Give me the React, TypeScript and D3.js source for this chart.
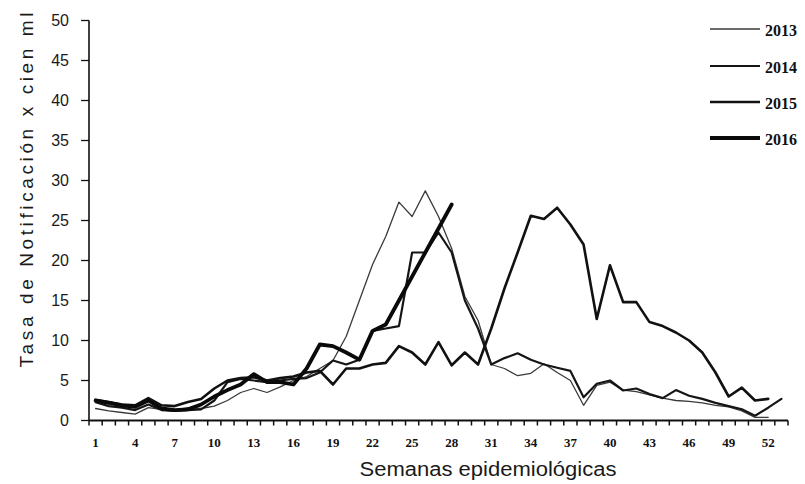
import React from 'react';
import * as d3 from 'd3';

const weeks: number[] = [
  1, 2, 3, 4, 5, 6, 7, 8, 9, 10, 11, 12, 13, 14, 15, 16, 17, 18, 19, 20, 21, 22, 23, 24, 25, 26,
  27, 28, 29, 30, 31, 32, 33, 34, 35, 36, 37, 38, 39, 40, 41, 42, 43, 44, 45, 46, 47, 48, 49, 50,
  51, 52, 53,
];
const xTickLabels: number[] = [1, 4, 7, 10, 13, 16, 19, 22, 25, 28, 31, 34, 37, 40, 43, 46, 49, 52];
const yTickValues: number[] = [0, 5, 10, 15, 20, 25, 30, 35, 40, 45, 50];
const seriesNames: string[] = ['2013', '2014', '2015', '2016'];

const s2013: number[] = [
  1.5, 1.2, 1.0, 0.8, 1.6, 1.4, 1.3, 1.6, 1.5, 1.8,
  2.5, 3.5, 4.0, 3.5, 4.2, 5.0, 5.5, 6.5, 7.5, 10.5,
  15, 19.5, 23, 27.3, 25.5, 28.7, 25.5, 21.5, 15.5, 12.5,
  7, 6.5, 5.6, 5.9, 7.1, 6.0, 5.0, 1.9, 4.4, 4.8,
  3.8, 3.6, 3.2, 2.8, 2.5, 2.4, 2.2, 1.9, 1.7, 1.2,
  0.4, 0.4,
];
const s2014: number[] = [
  2.3, 1.8, 1.6, 1.3, 2.0, 1.3, 1.2, 1.3, 1.4, 2.5,
  4.8, 5.2, 5.0, 4.8, 5.0, 5.2, 5.3, 6.0, 7.5, 7.0,
  7.6, 11.2, 11.5, 11.8, 21, 21, 23.5, 21, 15, 11.5,
  7, 7.8, 8.4, 7.6, 7.0, 6.6, 6.2, 2.9, 4.6, 5.0,
  3.75, 4.0, 3.3, 2.8, 3.8, 3.1, 2.7, 2.2, 1.8, 1.4,
  0.6, 1.6, 2.7,
];
const s2015: number[] = [
  2.6, 2.3, 2.0, 1.9, 2.8, 1.9, 1.8, 2.3, 2.7, 4.0,
  5.0, 5.3, 5.4, 5.0, 5.3, 5.5, 6.0, 6.2, 4.5, 6.5,
  6.5, 7.0, 7.2, 9.3, 8.5, 7.0, 9.8, 6.9, 8.5, 7.0,
  11.5, 16.5, 21, 25.6, 25.2, 26.6, 24.5, 22, 12.7, 19.4,
  14.8, 14.8, 12.3, 11.8, 11, 10, 8.5, 6, 3, 4.1,
  2.5, 2.7,
];
const s2016: number[] = [
  2.5, 2.2, 1.9, 1.7, 2.5, 1.5, 1.3, 1.4, 2.0, 3.0,
  3.8, 4.5, 5.8, 4.8, 4.8, 4.5, 6.5, 9.5, 9.3, 8.5,
  7.6, 11.2, 12, 15, 18, 21, 24, 27,
];

const seriesValues: number[][] = [s2013, s2014, s2015, s2016];
const seriesWidths = [1.3, 2.2, 2.6, 3.8];
const seriesColors = ['#3a3a3a', '#151515', '#111111', '#0a0a0a'];

const W = 805;
const H = 484;
const X0 = 89;
const X1 = 788;
const Y0 = 420.5;
const Y1 = 20.5;

export default function App() {
  const x = d3.scaleBand<number>().domain(weeks).range([X0, X1]).paddingInner(0).paddingOuter(0);
  const bw = x.bandwidth();
  const cx = (w: number) => (x(w) as number) + bw / 2;
  const y = d3.scaleLinear().domain([0, 50]).range([Y0, Y1]);

  const line = d3
    .line<number>()
    .x((_, i) => cx(weeks[i]))
    .y((d) => y(d))
    .curve(d3.curveLinear);

  const boundaries = weeks.map((w) => x(w) as number).concat([X1]);

  const legendY = [29, 66, 102, 138];

  return (
    <svg
      width={W}
      height={H}
      viewBox={`0 0 ${W} ${H}`}
      style={{ position: 'absolute', left: 0, top: 0, background: '#fff' }}
    >
      <rect x={0} y={0} width={W} height={H} fill="#fff" />
      {/* Y axis */}
      <line x1={X0} x2={X0} y1={Y1} y2={Y0} stroke="#111" strokeWidth={1.6} />
      {yTickValues.map((v) => (
        <g key={v}>
          <line x1={X0 - 8} x2={X0} y1={y(v)} y2={y(v)} stroke="#111" strokeWidth={1.3} />
          <text
            x={69}
            y={y(v) + 5.5}
            textAnchor="end"
            fontFamily="Liberation Sans, Arial, sans-serif"
            fontSize={16}
            fill="#1a1a1a"
          >
            {v}
          </text>
        </g>
      ))}
      {/* X axis */}
      <line x1={X0} x2={X1} y1={Y0} y2={Y0} stroke="#111" strokeWidth={1.8} />
      {boundaries.map((b, i) => (
        <line key={i} x1={b} x2={b} y1={Y0} y2={Y0 + 5} stroke="#111" strokeWidth={1.5} />
      ))}
      {xTickLabels.map((w) => (
        <text
          key={w}
          x={cx(w)}
          y={447}
          textAnchor="middle"
          fontFamily="Liberation Serif, DejaVu Serif, serif"
          fontWeight="bold"
          fontSize={13}
          fill="#111"
        >
          {w}
        </text>
      ))}
      {/* Axis titles */}
      <text
        transform="translate(33,190) rotate(-90)"
        textAnchor="middle"
        fontFamily="Liberation Sans, Arial, sans-serif"
        fontSize={19}
        fill="#1a1a1a"
        textLength={355}
        lengthAdjust="spacing"
      >
        Tasa de Notificación x cien ml
      </text>
      <text
        x={488}
        y={476}
        textAnchor="middle"
        fontFamily="Liberation Sans, Arial, sans-serif"
        fontSize={20}
        fill="#1a1a1a"
        textLength={257}
        lengthAdjust="spacingAndGlyphs"
      >
        Semanas epidemiológicas
      </text>
      {/* Series */}
      {seriesValues.map((vals, si) => (
        <path
          key={seriesNames[si]}
          d={line(vals) || ''}
          fill="none"
          stroke={seriesColors[si]}
          strokeWidth={seriesWidths[si]}
          strokeLinejoin="round"
          strokeLinecap="round"
        />
      ))}
      {/* Legend */}
      {seriesNames.map((name, si) => (
        <g key={name}>
          <line
            x1={710}
            x2={760}
            y1={legendY[si]}
            y2={legendY[si]}
            stroke={seriesColors[si]}
            strokeWidth={seriesWidths[si]}
          />
          <text
            x={765}
            y={legendY[si] + 7}
            fontFamily="Liberation Serif, DejaVu Serif, serif"
            fontWeight="bold"
            fontSize={16}
            fill="#111"
          >
            {name}
          </text>
        </g>
      ))}
    </svg>
  );
}
